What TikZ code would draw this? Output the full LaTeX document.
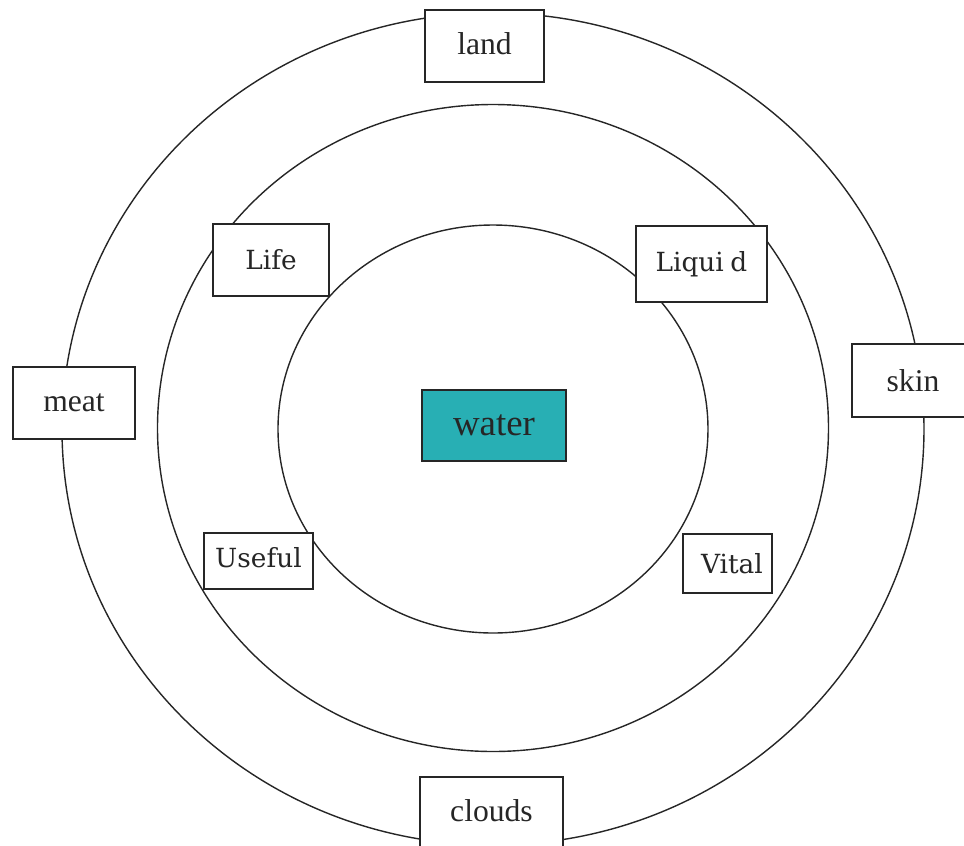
\documentclass[tikz,border=0pt]{standalone}
\usepackage{fontspec}
\setmainfont{Liberation Serif}
\newfontfamily\ideafont{DejaVu Serif}
\usetikzlibrary{positioning}
\definecolor{waterteal}{RGB}{40,175,180}

\begin{document}
\begin{tikzpicture}[
    ring/.style={draw=black!85, line width=0.8pt},
    word/.style={rectangle, draw=black!85, line width=0.9pt, fill=white,
                 inner sep=0pt, text=black!85, font=\fontsize{18}{22}\selectfont},
    idea/.style={word, font=\ideafont\fontsize{15}{18}\selectfont},
    core/.style={word, fill=waterteal, font=\fontsize{21}{25}\selectfont}
]
\useasboundingbox (-9.86,-8.32) rectangle (9.42,8.58);

% the three rings
\draw[ring] (0,0) ellipse [x radius=8.62cm, y radius=8.32cm];
\draw[ring] (0,0.02) ellipse [x radius=6.71cm, y radius=6.47cm];
\draw[ring] (0,0) ellipse [x radius=4.3cm, y radius=4.08cm];

\node[core, minimum width=2.88cm, minimum height=1.42cm] (water) at (0.02,0.07) {\raisebox{-0.1cm}{water}};

% inner ring words
\node[idea, minimum width=2.32cm, minimum height=1.44cm] (life) at (-4.44,3.38) {Life};
\node[idea, minimum width=2.62cm, minimum height=1.52cm] (liquid) at (4.17,3.3) {Liqui\hspace{0.25em}d};
\node[idea, minimum width=2.18cm, minimum height=1.12cm] (useful) at (-4.69,-2.64) {\raisebox{0.14cm}{Useful}};
\node[idea, minimum width=1.78cm, minimum height=1.18cm] (vital) at (4.69,-2.69) {\hspace*{0.18cm}Vital};

% outer ring words
\node[word, minimum width=2.38cm, minimum height=1.44cm] (land) at (-0.17,7.66) {\raisebox{0.1cm}{land}};
\node[word, minimum width=2.44cm, minimum height=1.44cm] (meat) at (-8.38,0.52) {meat};
\node[word, minimum width=2.44cm, minimum height=1.46cm] (skin) at (8.4,0.97) {skin};
\node[word, minimum width=2.86cm, minimum height=1.44cm] (clouds) at (-0.03,-7.68) {\raisebox{0.1cm}{clouds}};

\end{tikzpicture}
\end{document}
